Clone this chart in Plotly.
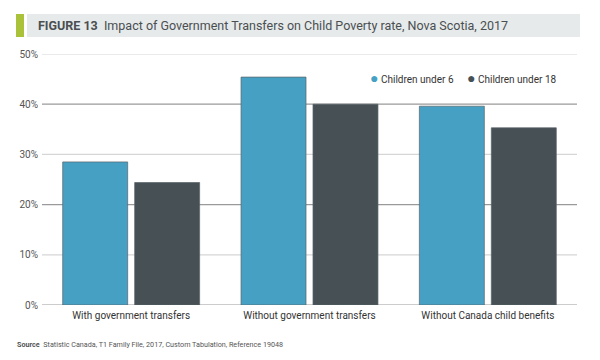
import plotly.graph_objects as go

categories = ["With government transfers", "Without government transfers", "Without Canada child benefits"]
under6 = [28.5, 45.4, 39.6]
under18 = [24.4, 40.0, 35.3]
series_names = ["Children under 6", "Children under 18"]
colors = ["#45a0c3", "#465055"]
y_ticks = [0, 10, 20, 30, 40, 50]
y_labels = ["0%", "10%", "20%", "30%", "40%", "50%"]
dark_grid = [0, 20, 40]
light_grid = [10, 30, 50]

FONT = "Roboto"
OFF = 8  # page body margin

W, H = 584, 344
L, T = 42 - OFF, 54 - OFF
R = W - (577 - OFF)
B = H - (305 - OFF)
pw, ph = W - L - R, H - T - B

def px(x):
    return (x - OFF - L) / pw

def py(y):
    return (H - B - (y - OFF)) / ph

fig = go.Figure()
for name, vals, c in zip(series_names, [under6, under18], colors):
    fig.add_trace(go.Bar(x=categories, y=vals, name=name, marker_color=c,
                         marker_line=dict(color="rgba(90,100,105,0.7)", width=1),
                         showlegend=False, hoverinfo="y"))

for v in light_grid:
    fig.add_shape(type="line", xref="paper", yref="y", x0=0, x1=1, y0=v, y1=v,
                  line=dict(color="#d6d6d6", width=1.2), layer="below")
for v in dark_grid:
    fig.add_shape(type="line", xref="paper", yref="y", x0=0, x1=1, y0=v, y1=v,
                  line=dict(color="#9a9a9a", width=1.2), layer="below")

fig.add_shape(type="rect", xref="paper", yref="paper", x0=px(27), x1=px(580), y0=py(37), y1=py(14),
              fillcolor="#e6eaea", line=dict(width=0), layer="below")
fig.add_shape(type="rect", xref="paper", yref="paper", x0=px(16), x1=px(24), y0=py(37), y1=py(14),
              fillcolor="#a9c23a", line=dict(width=0), layer="below")

annotations = [
    dict(xref="paper", yref="paper", x=px(36), y=py(25.5), xanchor="left", yanchor="middle",
         text="<b>FIGURE 13</b>  Impact of Government Transfers on Child Poverty rate, Nova Scotia, 2017",
         showarrow=False, font=dict(family=FONT, size=12.5, color="#4a4f52")),
    dict(xref="paper", yref="paper", x=px(368), y=py(78), xanchor="left", yanchor="middle",
         text="<span style='color:%s;font-size:14px'>●</span> %s" % (colors[0], series_names[0]),
         showarrow=False, font=dict(family=FONT, size=10, color="#333333")),
    dict(xref="paper", yref="paper", x=px(465), y=py(78), xanchor="left", yanchor="middle",
         text="<span style='color:%s;font-size:14px'>●</span> %s" % (colors[1], series_names[1]),
         showarrow=False, font=dict(family=FONT, size=10, color="#333333")),
    dict(xref="paper", yref="paper", x=px(15), y=py(344), xanchor="left", yanchor="middle",
         text="<b>Source</b>  Statistic Canada, T1 Family File, 2017, Custom Tabulation, Reference 19048",
         showarrow=False, font=dict(family=FONT, size=7.2, color="#555555")),
]

fig.update_layout(
    width=W, height=H,
    margin=dict(l=L, r=R, t=T, b=B),
    paper_bgcolor="white", plot_bgcolor="white",
    barmode="group", bargap=0.193, bargroupgap=0.097,
    font=dict(family=FONT, color="#333333"),
    annotations=annotations,
    xaxis=dict(showgrid=False, showline=False, tickfont=dict(size=10, color="#333333"),
               ticks="", ticklabelstandoff=3, automargin=False, fixedrange=True),
    yaxis=dict(range=[0, 50], tickvals=y_ticks, ticktext=y_labels, showgrid=False,
               zeroline=False, showline=False, tickfont=dict(size=10, color="#555555"),
               ticks="", ticklabelstandoff=3, automargin=False, fixedrange=True),
)

fig.write_html("out.html")
